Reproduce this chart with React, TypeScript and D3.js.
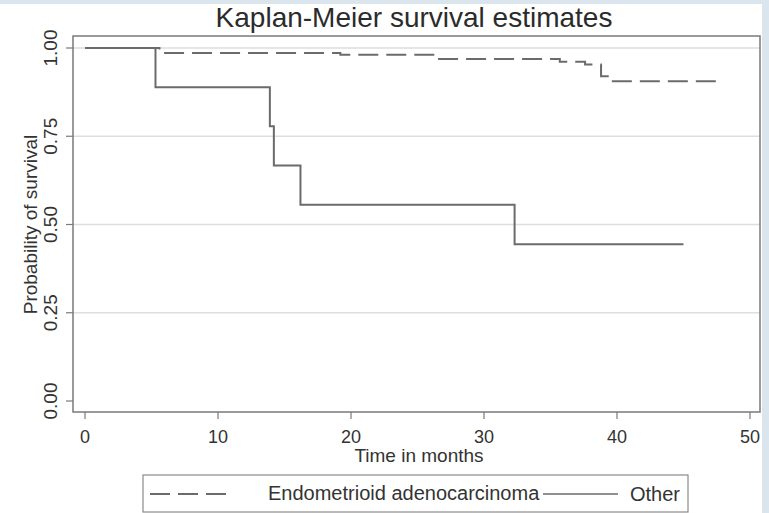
import React from "react";
import * as d3 from "d3";

// Kaplan-Meier estimates
const endoTimes = [0, 5.6, 19.2, 26.4, 35.7, 37.6, 38.8, 39.5, 48];
const endoSurv = [1, 0.986, 0.981, 0.969, 0.961, 0.953, 0.92, 0.906, 0.906];
const otherTimes = [0, 5.3, 13.9, 14.2, 16.2, 32.3, 45];
const otherSurv = [1, 0.889, 0.778, 0.667, 0.556, 0.444, 0.444];

const xTicks = [0, 10, 20, 30, 40, 50];
const yTicks = [0, 0.25, 0.5, 0.75, 1];
const yGrid = [0.25, 0.5, 0.75, 1];

const W = 769;
const H = 513;
const frame = { left: 73, right: 760, top: 36, bottom: 412 };
const lineColor = "#6b6b6b";
const font = "Liberation Sans, Arial, sans-serif";

export default function App() {
  const x = d3.scaleLinear().domain([0, 50]).range([85, 750]);
  const y = d3.scaleLinear().domain([0, 1]).range([401, 48]);

  const line = d3
    .line<[number, number]>()
    .x((d) => x(d[0]))
    .y((d) => y(d[1]))
    .curve(d3.curveStepAfter);

  const endo = endoTimes.map((t, i) => [t, endoSurv[i]] as [number, number]);
  const other = otherTimes.map((t, i) => [t, otherSurv[i]] as [number, number]);

  return (
    <svg width={W} height={H} style={{ position: "absolute", left: 0, top: 0 }} fontFamily={font}>
      <rect width={W} height={H} fill="#dbe5ee" />
      <rect x={0} y={4} width={762} height={H - 4} fill="#fff" />

      <text x={414} y={27} textAnchor="middle" fontSize={28} fill="#2b2b2b">
        Kaplan-Meier survival estimates
      </text>

      {/* gridlines */}
      {yGrid.map((v) => (
        <line key={v} x1={frame.left} x2={frame.right} y1={y(v)} y2={y(v)} stroke="#dedede" strokeWidth={1.5} />
      ))}

      {/* curves */}
      <path d={line(other) ?? ""} fill="none" stroke={lineColor} strokeWidth={2} />
      <path d={line(endo) ?? ""} fill="none" stroke={lineColor} strokeWidth={2} strokeDasharray="20 8" />

      {/* plot frame */}
      <rect
        x={frame.left}
        y={frame.top}
        width={frame.right - frame.left}
        height={frame.bottom - frame.top}
        fill="none"
        stroke="#7a7a7a"
        strokeWidth={1.5}
      />

      {/* y axis */}
      {yTicks.map((v) => (
        <g key={v}>
          <line x1={frame.left - 7} x2={frame.left} y1={y(v)} y2={y(v)} stroke="#7a7a7a" strokeWidth={1.2} />
          <text
            transform={`translate(57,${y(v)}) rotate(-90)`}
            textAnchor="middle"
            fontSize={19}
            fill="#333"
          >
            {d3.format(".2f")(v)}
          </text>
        </g>
      ))}
      <text transform={`translate(37,${(y(0) + y(1)) / 2}) rotate(-90)`} textAnchor="middle" fontSize={19} fill="#333">
        Probability of survival
      </text>

      {/* x axis */}
      {xTicks.map((v) => (
        <g key={v}>
          <line x1={x(v)} x2={x(v)} y1={frame.bottom} y2={frame.bottom + 7} stroke="#7a7a7a" strokeWidth={1.2} />
          <text x={x(v)} y={443} textAnchor="middle" fontSize={18} fill="#333">
            {v}
          </text>
        </g>
      ))}
      <text x={419} y={462} textAnchor="middle" fontSize={19} fill="#333">
        Time in months
      </text>

      {/* legend */}
      <rect x={143} y={475} width={545} height={37} fill="#fff" stroke="#8a8a8a" strokeWidth={1.2} />
      <line x1={150} x2={226} y1={494} y2={494} stroke={lineColor} strokeWidth={2} strokeDasharray="20 8" />
      <text x={268} y={500} fontSize={20} fill="#333">
        Endometrioid adenocarcinoma
      </text>
      <line x1={543} x2={618} y1={494} y2={494} stroke={lineColor} strokeWidth={1.5} />
      <text x={630} y={501} fontSize={20} fill="#333">
        Other
      </text>
    </svg>
  );
}
